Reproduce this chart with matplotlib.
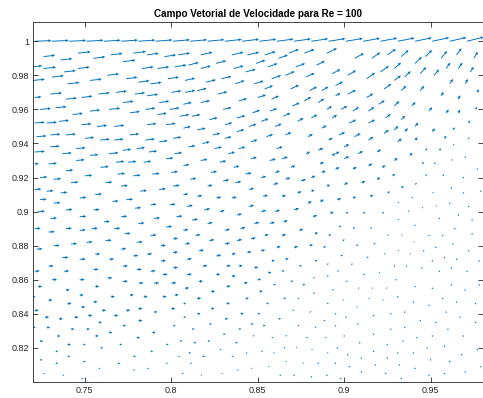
import matplotlib
matplotlib.use("Agg")
import matplotlib.pyplot as plt
import numpy as np

plt.rcParams['font.family'] = ['Liberation Sans', 'DejaVu Sans']

# velocity samples near the top-right corner of the cavity: (x, y, u, v)
lid_row = [
    (0.721, 1.0, 1.00, 0.04), (0.731, 1.0, 1.00, 0.05), (0.741, 1.0, 1.00, 0.05),
    (0.751, 1.0, 1.00, 0.06), (0.761, 1.0, 1.00, 0.06), (0.771, 1.0, 1.00, 0.07),
    (0.781, 1.0, 1.00, 0.07), (0.791, 1.0, 1.00, 0.08), (0.801, 1.0, 1.00, 0.09),
    (0.811, 1.0, 1.00, 0.09), (0.821, 1.0, 1.00, 0.10), (0.831, 1.0, 1.00, 0.11),
    (0.841, 1.0, 1.00, 0.12), (0.851, 1.0, 1.00, 0.12), (0.861, 1.0, 1.00, 0.13),
    (0.871, 1.0, 1.00, 0.14), (0.881, 1.0, 1.00, 0.15), (0.891, 1.0, 1.00, 0.16),
    (0.901, 1.0, 1.00, 0.17), (0.911, 1.0, 1.00, 0.18), (0.921, 1.0, 1.00, 0.19),
    (0.931, 1.0, 1.00, 0.20), (0.941, 1.0, 1.00, 0.21), (0.951, 1.0, 1.00, 0.22),
    (0.961, 1.0, 1.00, 0.23), (0.971, 1.0, 1.00, 0.25),
]

upper_left = [
    (0.726, 0.991, 0.70, 0.08), (0.736, 0.989, 0.70, 0.08), (0.746, 0.993, 0.76, 0.09),
    (0.755, 0.990, 0.70, 0.09), (0.765, 0.992, 0.70, 0.09), (0.778, 0.993, 0.76, 0.10),
    (0.786, 0.992, 0.70, 0.10), (0.796, 0.991, 0.70, 0.10), (0.804, 0.992, 0.70, 0.11),
    (0.720, 0.985, 0.55, 0.06), (0.726, 0.984, 0.76, 0.08), (0.738, 0.982, 0.70, 0.08),
    (0.746, 0.984, 0.70, 0.09), (0.763, 0.980, 0.70, 0.09), (0.772, 0.988, 0.76, 0.10),
    (0.783, 0.984, 0.70, 0.10), (0.792, 0.984, 0.70, 0.10), (0.802, 0.985, 0.70, 0.11),
    (0.720, 0.977, 0.70, 0.07), (0.731, 0.979, 0.70, 0.08), (0.740, 0.975, 0.70, 0.08),
    (0.753, 0.977, 0.70, 0.08), (0.774, 0.978, 0.66, 0.09), (0.781, 0.976, 0.66, 0.09),
    (0.788, 0.975, 0.66, 0.09), (0.798, 0.978, 0.66, 0.10),
    (0.721, 0.967, 0.40, 0.04), (0.730, 0.969, 0.70, 0.07), (0.739, 0.966, 0.66, 0.07),
    (0.748, 0.967, 0.66, 0.08), (0.758, 0.969, 0.66, 0.08), (0.768, 0.970, 0.66, 0.08),
    (0.772, 0.964, 0.64, 0.08), (0.779, 0.969, 0.60, 0.08), (0.786, 0.968, 0.66, 0.09),
    (0.793, 0.964, 0.60, 0.09), (0.800, 0.970, 0.60, 0.09),
    (0.724, 0.960, 0.66, 0.06), (0.733, 0.961, 0.66, 0.06), (0.743, 0.957, 0.60, 0.07),
    (0.753, 0.959, 0.60, 0.07), (0.764, 0.960, 0.66, 0.07), (0.776, 0.958, 0.60, 0.08),
    (0.785, 0.960, 0.60, 0.08), (0.792, 0.957, 0.56, 0.08), (0.799, 0.960, 0.60, 0.09),
    (0.721, 0.952, 0.60, 0.05), (0.728, 0.952, 0.60, 0.05), (0.735, 0.953, 0.60, 0.06),
    (0.748, 0.951, 0.60, 0.06), (0.757, 0.950, 0.60, 0.06), (0.767, 0.950, 0.60, 0.07),
    (0.786, 0.951, 0.56, 0.07), (0.797, 0.951, 0.56, 0.08),
    (0.722, 0.944, 0.60, 0.05), (0.730, 0.945, 0.60, 0.05), (0.739, 0.945, 0.60, 0.06),
    (0.750, 0.943, 0.56, 0.06), (0.759, 0.942, 0.56, 0.06), (0.767, 0.942, 0.56, 0.06),
    (0.776, 0.945, 0.56, 0.07), (0.785, 0.942, 0.56, 0.07), (0.793, 0.941, 0.50, 0.07),
    (0.801, 0.943, 0.50, 0.08),
    (0.721, 0.935, 0.60, 0.04), (0.730, 0.938, 0.56, 0.05), (0.737, 0.934, 0.56, 0.05),
    (0.745, 0.937, 0.56, 0.05), (0.753, 0.933, 0.50, 0.05), (0.764, 0.934, 0.56, 0.06),
    (0.772, 0.936, 0.50, 0.06), (0.780, 0.937, 0.50, 0.06), (0.787, 0.935, 0.50, 0.06),
    (0.797, 0.931, 0.44, 0.06), (0.802, 0.934, 0.44, 0.07),
    (0.721, 0.928, 0.24, 0.02), (0.729, 0.928, 0.50, 0.04), (0.745, 0.930, 0.50, 0.05),
    (0.759, 0.926, 0.50, 0.05), (0.768, 0.929, 0.50, 0.05), (0.775, 0.929, 0.50, 0.05),
    (0.784, 0.929, 0.46, 0.06),
    (0.724, 0.920, 0.44, 0.04), (0.732, 0.919, 0.44, 0.04), (0.739, 0.924, 0.44, 0.04),
    (0.750, 0.921, 0.44, 0.04), (0.769, 0.922, 0.44, 0.05), (0.778, 0.921, 0.44, 0.05),
    (0.789, 0.922, 0.44, 0.05), (0.800, 0.923, 0.40, 0.06),
    (0.721, 0.913, 0.40, 0.03), (0.728, 0.912, 0.40, 0.03), (0.736, 0.911, 0.40, 0.04),
    (0.742, 0.917, 0.44, 0.04), (0.756, 0.910, 0.40, 0.04), (0.762, 0.917, 0.40, 0.04),
    (0.771, 0.915, 0.40, 0.04), (0.782, 0.912, 0.40, 0.05), (0.793, 0.913, 0.40, 0.05),
    (0.801, 0.915, 0.40, 0.05),
    (0.724, 0.907, 0.40, 0.03), (0.747, 0.908, 0.40, 0.04), (0.774, 0.907, 0.40, 0.04),
]

upper_mid = [
    (0.817, 0.992, 0.70, 0.16), (0.835, 0.992, 0.70, 0.16), (0.844, 0.992, 0.70, 0.16),
    (0.854, 0.992, 0.66, 0.20), (0.868, 0.993, 0.60, 0.24), (0.877, 0.993, 0.60, 0.24),
    (0.890, 0.993, 0.60, 0.30),
    (0.810, 0.986, 0.60, 0.16), (0.817, 0.984, 0.60, 0.16), (0.826, 0.987, 0.60, 0.16),
    (0.836, 0.984, 0.60, 0.16), (0.843, 0.982, 0.60, 0.16), (0.849, 0.987, 0.56, 0.20),
    (0.856, 0.985, 0.56, 0.20), (0.862, 0.990, 0.56, 0.20), (0.872, 0.985, 0.56, 0.20),
    (0.884, 0.986, 0.50, 0.24),
    (0.808, 0.977, 0.60, 0.14), (0.820, 0.976, 0.60, 0.14), (0.829, 0.978, 0.60, 0.14),
    (0.837, 0.975, 0.56, 0.20), (0.848, 0.975, 0.56, 0.18), (0.858, 0.978, 0.56, 0.20),
    (0.866, 0.980, 0.56, 0.24), (0.878, 0.979, 0.50, 0.24), (0.893, 0.981, 0.50, 0.26),
    (0.808, 0.970, 0.60, 0.12), (0.815, 0.971, 0.56, 0.14), (0.827, 0.969, 0.56, 0.14),
    (0.854, 0.972, 0.50, 0.20), (0.869, 0.972, 0.50, 0.24), (0.880, 0.971, 0.44, 0.24),
    (0.887, 0.971, 0.40, 0.24),
    (0.807, 0.963, 0.50, 0.12), (0.817, 0.964, 0.56, 0.12), (0.839, 0.965, 0.50, 0.14),
    (0.850, 0.967, 0.50, 0.16), (0.858, 0.966, 0.44, 0.20), (0.870, 0.962, 0.44, 0.20),
    (0.877, 0.965, 0.40, 0.24), (0.885, 0.964, 0.36, 0.24), (0.890, 0.960, 0.30, 0.20),
    (0.805, 0.956, 0.56, 0.10), (0.812, 0.956, 0.50, 0.10), (0.822, 0.954, 0.50, 0.12),
    (0.830, 0.960, 0.50, 0.12), (0.838, 0.955, 0.50, 0.14), (0.847, 0.958, 0.44, 0.16),
    (0.857, 0.959, 0.44, 0.16), (0.865, 0.956, 0.40, 0.20), (0.873, 0.953, 0.36, 0.20),
    (0.881, 0.955, 0.36, 0.20), (0.893, 0.955, 0.30, 0.18),
    (0.807, 0.949, 0.44, 0.10), (0.815, 0.948, 0.50, 0.10), (0.824, 0.945, 0.44, 0.10),
    (0.831, 0.951, 0.44, 0.12), (0.838, 0.947, 0.44, 0.12), (0.845, 0.950, 0.44, 0.14),
    (0.852, 0.953, 0.44, 0.16), (0.860, 0.950, 0.40, 0.16), (0.866, 0.945, 0.36, 0.16),
    (0.887, 0.949, 0.30, 0.16),
    (0.810, 0.938, 0.40, 0.08), (0.818, 0.940, 0.44, 0.10), (0.825, 0.937, 0.44, 0.10),
    (0.831, 0.943, 0.40, 0.10), (0.839, 0.937, 0.40, 0.10), (0.846, 0.941, 0.40, 0.12),
    (0.855, 0.944, 0.40, 0.14), (0.861, 0.937, 0.36, 0.12), (0.879, 0.944, 0.30, 0.16),
    (0.885, 0.936, 0.30, 0.14), (0.891, 0.942, 0.24, 0.14),
    (0.807, 0.927, 0.36, 0.07), (0.817, 0.930, 0.40, 0.08), (0.828, 0.929, 0.40, 0.08),
    (0.833, 0.934, 0.40, 0.10), (0.836, 0.926, 0.36, 0.08), (0.846, 0.931, 0.36, 0.10),
    (0.857, 0.930, 0.36, 0.10), (0.864, 0.931, 0.36, 0.12), (0.869, 0.926, 0.30, 0.10),
    (0.878, 0.934, 0.24, 0.12), (0.886, 0.928, 0.24, 0.12), (0.893, 0.933, 0.20, 0.12),
    (0.811, 0.919, 0.36, 0.06), (0.823, 0.923, 0.36, 0.07), (0.830, 0.918, 0.36, 0.07),
    (0.837, 0.917, 0.36, 0.07), (0.843, 0.922, 0.36, 0.08), (0.852, 0.920, 0.30, 0.08),
    (0.860, 0.923, 0.30, 0.09), (0.866, 0.919, 0.30, 0.09), (0.875, 0.918, 0.30, 0.10),
    (0.881, 0.920, 0.24, 0.10), (0.887, 0.923, 0.24, 0.10),
    (0.807, 0.910, 0.30, 0.05), (0.815, 0.909, 0.30, 0.05), (0.821, 0.915, 0.30, 0.06),
    (0.826, 0.908, 0.30, 0.06), (0.835, 0.908, 0.30, 0.06), (0.845, 0.913, 0.30, 0.07),
    (0.853, 0.909, 0.30, 0.07), (0.859, 0.916, 0.30, 0.08), (0.864, 0.909, 0.24, 0.07),
    (0.873, 0.911, 0.24, 0.08), (0.881, 0.912, 0.20, 0.08), (0.890, 0.915, 0.20, 0.08),
]

upper_right = [
    (0.906, 0.990, 0.56, 0.30), (0.916, 0.990, 0.50, 0.36), (0.925, 0.992, 0.50, 0.36),
    (0.933, 0.991, 0.44, 0.40), (0.941, 0.987, 0.40, 0.40), (0.947, 0.991, 0.40, 0.40),
    (0.956, 0.990, 0.36, 0.44), (0.965, 0.992, 0.30, 0.40), (0.975, 0.990, 0.24, 0.40),
    (0.902, 0.980, 0.50, 0.30), (0.913, 0.978, 0.50, 0.36), (0.921, 0.982, 0.50, 0.36),
    (0.929, 0.984, 0.40, 0.36), (0.935, 0.979, 0.36, 0.36), (0.944, 0.981, 0.36, 0.40),
    (0.952, 0.980, 0.30, 0.36), (0.959, 0.984, 0.24, 0.36), (0.966, 0.984, 0.24, 0.36),
    (0.973, 0.982, 0.20, 0.32),
    (0.895, 0.974, 0.44, 0.24), (0.902, 0.969, 0.50, 0.24), (0.923, 0.972, 0.44, 0.30),
    (0.929, 0.977, 0.40, 0.30), (0.933, 0.971, 0.30, 0.30), (0.944, 0.971, 0.24, 0.30),
    (0.961, 0.975, 0.20, 0.30), (0.970, 0.975, 0.16, 0.30), (0.956, 0.968, 0.16, 0.24),
    (0.977, 0.970, 0.08, 0.20),
    (0.895, 0.968, 0.30, 0.16), (0.898, 0.960, 0.40, 0.20), (0.905, 0.959, 0.36, 0.24),
    (0.913, 0.967, 0.40, 0.24), (0.914, 0.959, 0.36, 0.24), (0.920, 0.963, 0.36, 0.24),
    (0.929, 0.962, 0.30, 0.30), (0.939, 0.962, 0.24, 0.24), (0.949, 0.959, 0.20, 0.24),
    (0.959, 0.958, 0.16, 0.20), (0.966, 0.958, 0.12, 0.20), (0.976, 0.960, 0.08, 0.16),
    (0.966, 0.966, 0.12, 0.24),
    (0.903, 0.952, 0.40, 0.20), (0.914, 0.952, 0.40, 0.20), (0.924, 0.955, 0.30, 0.24),
    (0.933, 0.954, 0.24, 0.24), (0.941, 0.950, 0.20, 0.24), (0.929, 0.948, 0.24, 0.24),
    (0.935, 0.947, 0.20, 0.20), (0.951, 0.947, 0.16, 0.20), (0.963, 0.948, 0.10, 0.16),
    (0.972, 0.952, 0.08, 0.16),
    (0.897, 0.945, 0.36, 0.16), (0.906, 0.944, 0.36, 0.20), (0.914, 0.942, 0.30, 0.20),
    (0.923, 0.946, 0.30, 0.20), (0.931, 0.941, 0.24, 0.20), (0.941, 0.942, 0.16, 0.16),
    (0.958, 0.943, 0.12, 0.16), (0.972, 0.943, 0.06, 0.06), (0.963, 0.939, 0.08, 0.08),
    (0.895, 0.934, 0.24, 0.12), (0.900, 0.938, 0.30, 0.16), (0.900, 0.931, 0.30, 0.16),
    (0.908, 0.934, 0.30, 0.16), (0.919, 0.935, 0.24, 0.16), (0.929, 0.930, 0.20, 0.16),
    (0.938, 0.933, 0.16, 0.16), (0.947, 0.936, 0.12, 0.12), (0.955, 0.936, 0.12, 0.12),
    (0.945, 0.928, 0.12, 0.12), (0.952, 0.928, 0.10, 0.10), (0.962, 0.930, 0.08, 0.08),
    (0.970, 0.932, 0.06, 0.06),
    (0.895, 0.925, 0.24, 0.10), (0.905, 0.925, 0.24, 0.12), (0.914, 0.927, 0.24, 0.12),
    (0.922, 0.926, 0.20, 0.12), (0.928, 0.921, 0.16, 0.12), (0.947, 0.921, 0.10, 0.10),
    (0.957, 0.921, 0.10, 0.10), (0.969, 0.920, 0.06, 0.06), (0.977, 0.925, 0.04, 0.04),
    (0.900, 0.916, 0.24, 0.10), (0.910, 0.917, 0.24, 0.10), (0.919, 0.919, 0.20, 0.10),
    (0.933, 0.914, 0.16, 0.10), (0.941, 0.916, 0.12, 0.08), (0.951, 0.911, 0.08, 0.06),
    (0.962, 0.914, 0.06, 0.04), (0.969, 0.911, 0.04, 0.04), (0.979, 0.912, 0.04, 0.02),
    (0.896, 0.907, 0.24, 0.08), (0.905, 0.908, 0.20, 0.08), (0.915, 0.909, 0.20, 0.08),
    (0.925, 0.911, 0.16, 0.08), (0.939, 0.908, 0.10, 0.06),
]

lower_left = [
    (0.732, 0.905, 0.40, 0.03), (0.766, 0.906, 0.36, 0.03), (0.788, 0.904, 0.36, 0.04),
    (0.799, 0.904, 0.36, 0.04), (0.723, 0.900, 0.40, 0.03), (0.739, 0.901, 0.40, 0.03),
    (0.755, 0.901, 0.36, 0.03), (0.779, 0.902, 0.36, 0.04), (0.730, 0.896, 0.40, 0.03),
    (0.747, 0.897, 0.40, 0.03), (0.761, 0.894, 0.36, 0.03), (0.771, 0.897, 0.36, 0.03),
    (0.781, 0.893, 0.36, 0.04), (0.790, 0.896, 0.36, 0.04), (0.797, 0.891, 0.36, 0.04),
    (0.803, 0.897, 0.36, 0.05), (0.721, 0.890, 0.36, 0.02), (0.729, 0.888, 0.36, 0.03),
    (0.739, 0.890, 0.36, 0.03), (0.747, 0.889, 0.36, 0.03), (0.754, 0.890, 0.36, 0.03),
    (0.767, 0.890, 0.36, 0.03), (0.773, 0.887, 0.36, 0.03), (0.788, 0.886, 0.36, 0.04),
    (0.801, 0.884, 0.30, 0.04), (0.732, 0.880, 0.36, 0.02), (0.742, 0.881, 0.36, 0.03),
    (0.751, 0.882, 0.36, 0.03), (0.762, 0.883, 0.36, 0.03), (0.771, 0.878, 0.30, 0.03),
    (0.780, 0.882, 0.36, 0.03), (0.794, 0.880, 0.30, 0.03), (0.722, 0.878, 0.36, 0.02),
    (0.737, 0.873, 0.36, 0.02), (0.747, 0.872, 0.36, 0.02), (0.756, 0.875, 0.30, 0.02),
    (0.764, 0.872, 0.30, 0.03), (0.778, 0.874, 0.30, 0.03), (0.786, 0.875, 0.30, 0.03),
    (0.794, 0.871, 0.30, 0.03), (0.801, 0.876, 0.30, 0.03), (0.721, 0.865, 0.30, 0.02),
    (0.729, 0.868, 0.30, 0.02), (0.738, 0.865, 0.30, 0.02), (0.755, 0.866, 0.30, 0.02),
    (0.772, 0.868, 0.30, 0.02), (0.780, 0.866, 0.30, 0.02), (0.788, 0.865, 0.30, 0.03),
    (0.795, 0.863, 0.30, 0.03), (0.801, 0.867, 0.30, 0.03), (0.731, 0.860, 0.30, 0.02),
    (0.747, 0.860, 0.30, 0.02), (0.763, 0.861, 0.30, 0.02), (0.772, 0.859, 0.30, 0.02),
    (0.781, 0.858, 0.30, 0.02), (0.790, 0.858, 0.30, 0.02), (0.800, 0.858, 0.30, 0.03),
    (0.723, 0.856, 0.24, 0.01), (0.739, 0.854, 0.24, 0.01), (0.756, 0.856, 0.24, 0.02),
    (0.720, 0.850, 0.16, 0.01), (0.729, 0.848, 0.24, 0.01), (0.747, 0.851, 0.24, 0.01),
    (0.755, 0.847, 0.24, 0.01), (0.765, 0.850, 0.24, 0.02), (0.776, 0.851, 0.24, 0.02),
    (0.784, 0.850, 0.24, 0.02), (0.795, 0.850, 0.24, 0.02), (0.802, 0.851, 0.24, 0.02),
    (0.740, 0.846, 0.24, 0.01), (0.748, 0.844, 0.24, 0.01), (0.760, 0.842, 0.24, 0.01),
    (0.774, 0.842, 0.24, 0.02), (0.781, 0.843, 0.24, 0.02), (0.800, 0.843, 0.24, 0.02),
    (0.721, 0.842, 0.24, 0.01), (0.727, 0.838, 0.24, 0.01), (0.735, 0.837, 0.24, 0.01),
    (0.744, 0.838, 0.24, 0.01), (0.752, 0.839, 0.24, 0.01), (0.767, 0.839, 0.24, 0.01),
    (0.781, 0.836, 0.24, 0.01), (0.790, 0.841, 0.20, 0.02), (0.720, 0.832, 0.16, 0.00),
    (0.728, 0.832, 0.20, 0.00), (0.742, 0.831, 0.20, 0.01), (0.751, 0.831, 0.20, 0.01),
    (0.758, 0.835, 0.20, 0.01), (0.764, 0.829, 0.20, 0.01), (0.772, 0.833, 0.20, 0.01),
    (0.789, 0.829, 0.20, 0.01), (0.801, 0.833, 0.16, 0.01), (0.734, 0.827, 0.20, 0.00),
    (0.756, 0.827, 0.20, 0.01), (0.780, 0.826, 0.20, 0.01), (0.724, 0.824, 0.20, 0.00),
    (0.740, 0.822, 0.20, 0.00), (0.749, 0.822, 0.16, 0.00), (0.759, 0.820, 0.16, 0.01),
    (0.770, 0.822, 0.16, 0.01), (0.797, 0.822, 0.16, 0.01), (0.805, 0.824, 0.16, 0.01),
    (0.733, 0.818, 0.16, 0.00), (0.788, 0.818, 0.16, 0.01), (0.724, 0.813, 0.16, 0.00),
    (0.740, 0.815, 0.16, 0.00), (0.778, 0.815, 0.16, 0.01), (0.804, 0.815, 0.12, 0.01),
    (0.733, 0.811, 0.16, 0.00), (0.749, 0.812, 0.16, 0.00), (0.769, 0.811, 0.16, 0.00),
    (0.797, 0.811, 0.12, 0.01), (0.758, 0.808, 0.12, 0.00), (0.778, 0.807, 0.12, 0.00),
    (0.786, 0.808, 0.12, 0.00), (0.726, 0.805, 0.12, 0.00), (0.737, 0.804, 0.12, 0.00),
    (0.748, 0.802, 0.12, 0.00), (0.806, 0.805, 0.12, 0.01),
]

lower_mid = [
    (0.809, 0.903, 0.36, 0.08), (0.819, 0.901, 0.36, 0.08), (0.828, 0.900, 0.30, 0.08),
    (0.845, 0.903, 0.30, 0.08), (0.852, 0.900, 0.30, 0.09), (0.860, 0.900, 0.30, 0.10),
    (0.871, 0.901, 0.30, 0.10), (0.879, 0.905, 0.24, 0.10), (0.886, 0.906, 0.24, 0.10),
    (0.812, 0.895, 0.36, 0.07), (0.821, 0.893, 0.30, 0.07), (0.838, 0.898, 0.30, 0.08),
    (0.848, 0.893, 0.30, 0.08), (0.857, 0.893, 0.30, 0.09), (0.865, 0.894, 0.24, 0.09),
    (0.882, 0.897, 0.24, 0.10), (0.892, 0.899, 0.20, 0.10), (0.807, 0.889, 0.30, 0.06),
    (0.814, 0.886, 0.30, 0.06), (0.831, 0.889, 0.30, 0.07), (0.840, 0.890, 0.30, 0.08),
    (0.854, 0.886, 0.24, 0.07), (0.864, 0.886, 0.24, 0.08), (0.874, 0.889, 0.24, 0.08),
    (0.883, 0.887, 0.20, 0.08), (0.891, 0.886, 0.16, 0.07), (0.808, 0.881, 0.30, 0.05),
    (0.822, 0.883, 0.30, 0.06), (0.831, 0.881, 0.30, 0.06), (0.838, 0.883, 0.30, 0.07),
    (0.846, 0.884, 0.30, 0.07), (0.861, 0.879, 0.24, 0.07), (0.871, 0.879, 0.24, 0.07),
    (0.880, 0.880, 0.20, 0.07), (0.888, 0.879, 0.16, 0.06), (0.816, 0.877, 0.30, 0.05),
    (0.826, 0.874, 0.30, 0.05), (0.835, 0.875, 0.24, 0.05), (0.844, 0.876, 0.24, 0.06),
    (0.852, 0.877, 0.24, 0.06), (0.858, 0.871, 0.20, 0.05), (0.866, 0.872, 0.20, 0.06),
    (0.883, 0.871, 0.16, 0.06), (0.890, 0.869, 0.12, 0.05), (0.809, 0.872, 0.30, 0.04),
    (0.818, 0.868, 0.30, 0.04), (0.832, 0.868, 0.24, 0.05), (0.839, 0.868, 0.24, 0.05),
    (0.848, 0.867, 0.24, 0.05), (0.856, 0.864, 0.20, 0.05), (0.864, 0.865, 0.16, 0.05),
    (0.874, 0.868, 0.16, 0.05), (0.809, 0.863, 0.30, 0.04), (0.826, 0.863, 0.24, 0.04),
    (0.835, 0.862, 0.24, 0.04), (0.850, 0.860, 0.20, 0.04), (0.859, 0.857, 0.16, 0.04),
    (0.869, 0.859, 0.16, 0.04), (0.876, 0.857, 0.16, 0.04), (0.882, 0.861, 0.12, 0.04),
    (0.890, 0.862, 0.12, 0.04), (0.816, 0.859, 0.24, 0.03), (0.842, 0.858, 0.24, 0.04),
    (0.808, 0.855, 0.24, 0.03), (0.823, 0.853, 0.24, 0.03), (0.832, 0.856, 0.24, 0.04),
    (0.851, 0.853, 0.20, 0.04), (0.882, 0.852, 0.12, 0.04), (0.893, 0.854, 0.12, 0.04),
    (0.815, 0.849, 0.24, 0.03), (0.843, 0.849, 0.20, 0.03), (0.832, 0.846, 0.20, 0.03),
    (0.855, 0.846, 0.16, 0.03), (0.865, 0.849, 0.16, 0.03), (0.873, 0.849, 0.12, 0.03),
    (0.890, 0.846, 0.12, 0.03), (0.807, 0.846, 0.16, 0.02), (0.823, 0.843, 0.20, 0.03),
    (0.815, 0.840, 0.20, 0.02), (0.807, 0.838, 0.16, 0.02), (0.840, 0.840, 0.20, 0.03),
    (0.850, 0.840, 0.16, 0.03), (0.862, 0.837, 0.16, 0.03), (0.870, 0.842, 0.12, 0.03),
    (0.880, 0.841, 0.12, 0.03), (0.888, 0.836, 0.12, 0.03), (0.831, 0.837, 0.20, 0.02),
    (0.822, 0.834, 0.16, 0.02), (0.846, 0.834, 0.16, 0.02), (0.853, 0.833, 0.16, 0.03),
    (0.873, 0.833, 0.12, 0.03), (0.883, 0.832, 0.12, 0.03), (0.812, 0.831, 0.16, 0.02),
    (0.839, 0.831, 0.16, 0.02), (0.830, 0.828, 0.16, 0.02), (0.847, 0.827, 0.12, 0.02),
    (0.858, 0.826, 0.12, 0.02), (0.866, 0.827, 0.12, 0.02), (0.878, 0.826, 0.12, 0.02),
    (0.889, 0.826, 0.10, 0.02), (0.813, 0.823, 0.16, 0.01), (0.821, 0.824, 0.16, 0.01),
    (0.837, 0.823, 0.16, 0.02), (0.828, 0.819, 0.12, 0.01), (0.852, 0.818, 0.12, 0.02),
    (0.865, 0.820, 0.12, 0.02), (0.872, 0.820, 0.10, 0.02), (0.881, 0.819, 0.10, 0.02),
    (0.890, 0.817, 0.10, 0.02), (0.810, 0.817, 0.16, 0.01), (0.818, 0.815, 0.16, 0.01),
    (0.835, 0.815, 0.12, 0.01), (0.843, 0.817, 0.12, 0.01), (0.859, 0.817, 0.10, 0.02),
    (0.811, 0.811, 0.12, 0.01), (0.866, 0.812, 0.10, 0.02), (0.876, 0.811, 0.10, 0.02),
    (0.885, 0.811, 0.08, 0.02), (0.838, 0.807, 0.12, 0.01), (0.846, 0.808, 0.10, 0.01),
    (0.856, 0.809, 0.10, 0.01), (0.829, 0.805, 0.10, 0.01), (0.817, 0.804, 0.10, 0.01),
    (0.863, 0.804, 0.08, 0.01), (0.871, 0.804, 0.08, 0.01), (0.881, 0.803, 0.08, 0.01),
    (0.890, 0.804, 0.08, 0.01),
]

lower_right = [
    (0.931, 0.905, 0.08, 0.08), (0.945, 0.902, 0.06, 0.08), (0.953, 0.903, 0.06, 0.08),
    (0.961, 0.905, 0.04, 0.08), (0.972, 0.903, 0.02, 0.06), (0.901, 0.899, 0.14, 0.08),
    (0.911, 0.899, 0.14, 0.08), (0.922, 0.899, 0.12, 0.08), (0.937, 0.900, 0.08, 0.08),
    (0.931, 0.895, 0.08, 0.08), (0.941, 0.892, 0.06, 0.06), (0.955, 0.896, 0.04, 0.06),
    (0.966, 0.898, 0.02, 0.06), (0.974, 0.895, 0.02, 0.06), (0.897, 0.891, 0.14, 0.07),
    (0.905, 0.890, 0.14, 0.07), (0.915, 0.890, 0.12, 0.07), (0.925, 0.886, 0.10, 0.06),
    (0.933, 0.886, 0.08, 0.06), (0.949, 0.886, 0.06, 0.05), (0.957, 0.886, 0.04, 0.05),
    (0.964, 0.890, 0.02, 0.05), (0.974, 0.887, 0.02, 0.04), (0.899, 0.883, 0.14, 0.06),
    (0.907, 0.880, 0.14, 0.06), (0.917, 0.881, 0.12, 0.06), (0.940, 0.882, 0.08, 0.05),
    (0.953, 0.879, 0.06, 0.05), (0.963, 0.881, 0.04, 0.04), (0.972, 0.877, 0.02, 0.04),
    (0.898, 0.874, 0.14, 0.05), (0.913, 0.873, 0.12, 0.05), (0.923, 0.875, 0.10, 0.05),
    (0.931, 0.877, 0.08, 0.05), (0.938, 0.875, 0.08, 0.05), (0.946, 0.877, 0.06, 0.04),
    (0.958, 0.873, 0.04, 0.04), (0.965, 0.872, 0.04, 0.04), (0.978, 0.871, 0.02, 0.03),
    (0.951, 0.871, 0.04, 0.04), (0.904, 0.869, 0.12, 0.04), (0.929, 0.868, 0.08, 0.04),
    (0.936, 0.868, 0.08, 0.04), (0.945, 0.867, 0.06, 0.04), (0.955, 0.865, 0.04, 0.03),
    (0.962, 0.867, 0.04, 0.03), (0.971, 0.865, 0.02, 0.03), (0.896, 0.865, 0.12, 0.04),
    (0.911, 0.863, 0.12, 0.04), (0.920, 0.864, 0.10, 0.04), (0.901, 0.859, 0.12, 0.03),
    (0.930, 0.860, 0.08, 0.04), (0.908, 0.855, 0.10, 0.03), (0.916, 0.855, 0.10, 0.03),
    (0.924, 0.855, 0.10, 0.03), (0.941, 0.856, 0.06, 0.03), (0.951, 0.855, 0.04, 0.03),
    (0.962, 0.857, 0.04, 0.03), (0.970, 0.854, 0.02, 0.02), (0.978, 0.857, 0.02, 0.02),
    (0.899, 0.848, 0.10, 0.03), (0.914, 0.849, 0.10, 0.03), (0.922, 0.848, 0.10, 0.03),
    (0.931, 0.850, 0.08, 0.03), (0.940, 0.847, 0.06, 0.03), (0.949, 0.845, 0.04, 0.02),
    (0.957, 0.849, 0.04, 0.02), (0.965, 0.847, 0.02, 0.02), (0.976, 0.846, 0.02, 0.02),
    (0.907, 0.844, 0.10, 0.02), (0.895, 0.840, 0.08, 0.02), (0.901, 0.838, 0.08, 0.02),
    (0.917, 0.839, 0.08, 0.02), (0.927, 0.840, 0.08, 0.02), (0.935, 0.841, 0.06, 0.02),
    (0.944, 0.836, 0.06, 0.02), (0.953, 0.835, 0.06, 0.02), (0.959, 0.841, 0.04, 0.02),
    (0.967, 0.838, 0.04, 0.02), (0.976, 0.835, 0.02, 0.02), (0.895, 0.833, 0.08, 0.01),
    (0.908, 0.834, 0.08, 0.02), (0.927, 0.831, 0.06, 0.02), (0.935, 0.832, 0.06, 0.02),
    (0.960, 0.831, 0.04, 0.02), (0.900, 0.827, 0.08, 0.01), (0.917, 0.828, 0.06, 0.01),
    (0.925, 0.822, 0.06, 0.01), (0.934, 0.824, 0.06, 0.02), (0.942, 0.826, 0.06, 0.02),
    (0.951, 0.827, 0.04, 0.02), (0.969, 0.827, 0.04, 0.02), (0.896, 0.820, 0.06, 0.01),
    (0.909, 0.823, 0.06, 0.01), (0.948, 0.820, 0.04, 0.01), (0.958, 0.821, 0.04, 0.01),
    (0.902, 0.816, 0.06, 0.01), (0.917, 0.818, 0.06, 0.01), (0.931, 0.817, 0.06, 0.01),
    (0.940, 0.817, 0.04, 0.01), (0.968, 0.816, 0.04, 0.01), (0.977, 0.819, 0.02, 0.01),
    (0.895, 0.811, 0.06, 0.00), (0.910, 0.814, 0.06, 0.01), (0.925, 0.814, 0.04, 0.01),
    (0.950, 0.813, 0.04, 0.01), (0.961, 0.812, 0.04, 0.01), (0.903, 0.809, 0.06, 0.00),
    (0.918, 0.810, 0.04, 0.01), (0.932, 0.810, 0.04, 0.01), (0.941, 0.808, 0.04, 0.01),
    (0.979, 0.809, 0.02, 0.01), (0.910, 0.806, 0.04, 0.00), (0.924, 0.805, 0.04, 0.00),
    (0.958, 0.805, 0.04, 0.01), (0.970, 0.806, 0.02, 0.01), (0.898, 0.802, 0.04, 0.00),
    (0.933, 0.802, 0.04, 0.00), (0.949, 0.804, 0.04, 0.01),
]

x_ticks = [0.75, 0.80, 0.85, 0.90, 0.95]
x_tick_labels = ['0.75', '0.8', '0.85', '0.9', '0.95']
y_ticks = [0.82, 0.84, 0.86, 0.88, 0.90, 0.92, 0.94, 0.96, 0.98, 1.00]
y_tick_labels = ['0.82', '0.84', '0.86', '0.88', '0.9', '0.92', '0.94', '0.96', '0.98', '1']

field = np.array(lid_row + upper_left + upper_mid + upper_right
                 + lower_left + lower_mid + lower_right)
x, y, u, v = field.T

fig = plt.figure(figsize=(4.83, 3.98), dpi=100)
ax = fig.add_axes([33 / 483, 16 / 398, 449.5 / 483, 360 / 398])

# thin shafts with small heads; near-zero vectors still show up as dots
ax.quiver(x, y, u, v, angles='xy', scale_units='xy', scale=103,
          color='#0072BD', width=0.0021, headwidth=3.2, headlength=3.4,
          headaxislength=3.1, minshaft=1.2, minlength=1.6)

ax.set_xlim(0.72, 0.98)
ax.set_ylim(0.80, 1.0113)
ax.set_xticks(x_ticks)
ax.set_xticklabels(x_tick_labels)
ax.set_yticks(y_ticks)
ax.set_yticklabels(y_tick_labels)
ax.tick_params(direction='in', length=3.5, width=0.6, labelsize=6.5,
               colors='#262626', top=True, right=True, pad=3)
for side in ax.spines.values():
    side.set_color('#262626')
    side.set_linewidth(0.6)

ax.set_title('Campo Vetorial de Velocidade para Re = 100', fontsize=7.1,
             fontweight='bold', color='black', pad=3.5)

fig.savefig('out.png', dpi=100)
